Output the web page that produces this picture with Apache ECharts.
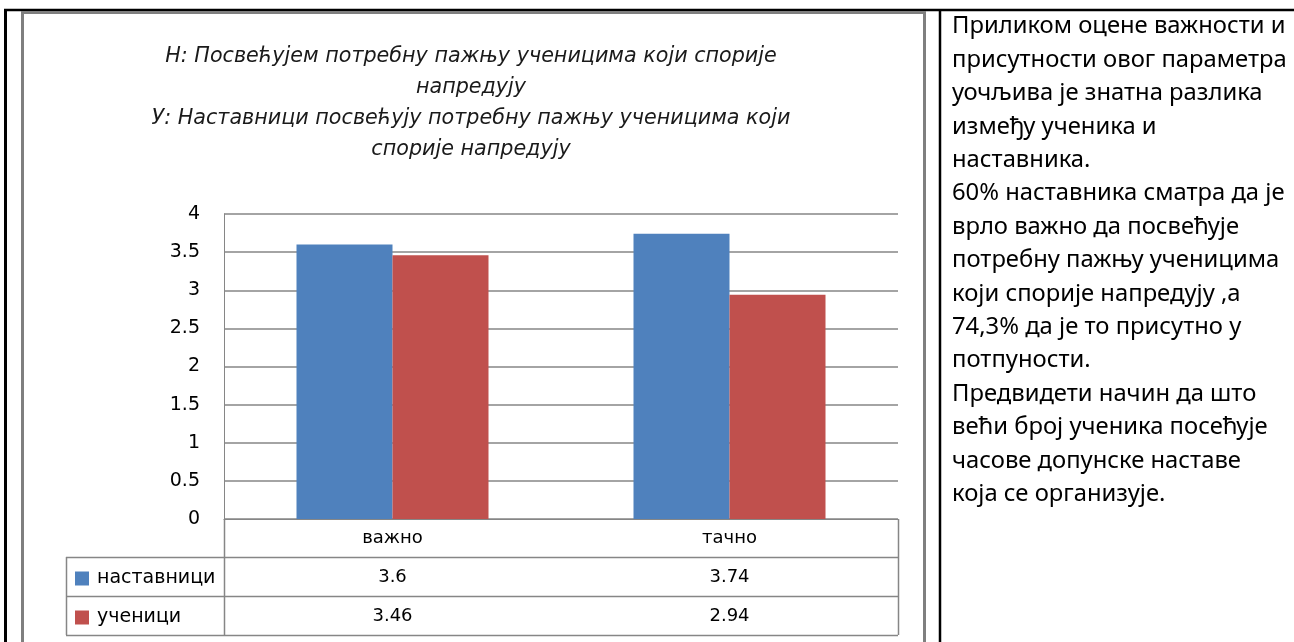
<!DOCTYPE html>
<html>
<head>
<meta charset="utf-8">
<script src="https://cdn.jsdelivr.net/npm/echarts@6/dist/echarts.min.js"></script>
<style>
  html, body { margin: 0; padding: 0; background: #fff; }
  #chart { width: 1294px; height: 642px; }
</style>
</head>
<body>
<div id="chart"></div>
<script>
const categories = ['важно', 'тачно']
const seriesNames = ['наставници', 'ученици']
const teacherValues = [3.6, 3.74]
const studentValues = [3.46, 2.94]
const titleLines = [
  'Н: Посвећујем потребну пажњу ученицима који спорије',
  'напредују',
  'У: Наставници посвећују потребну пажњу ученицима који',
  'спорије напредују'
]
const noteLines = [
  'Приликом оцене важности и',
  'присутности овог параметра',
  'уочљива је знатна разлика',
  'између ученика и',
  'наставника.',
  '60% наставника сматра да је',
  'врло важно да посвећује',
  'потребну пажњу ученицима',
  'који спорије напредују ,а',
  '74,3% да је то присутно у',
  'потпуности.',
  'Предвидети начин да што',
  'већи број ученика посећује',
  'часове допунске наставе',
  'која се организује.'
]

const gridColor = '#868686'
const labelFont = 'DejaVu Sans'

const chart = echarts.init(document.getElementById('chart'))

const options = {
  animation: false,
  title: {
    text: titleLines.join('\n'),
    left: 466,
    top: 36,
    textAlign: 'center',
    textStyle: {
      fontFamily: 'DejaVu Sans',
      fontStyle: 'italic',
      fontWeight: 'normal',
      fontSize: 20.7,
      lineHeight: 31,
      color: '#1a1a1a'
    }
  },
  legend: {
    orient: 'vertical',
    left: 75,
    top: 569,
    padding: 0,
    itemWidth: 14,
    itemHeight: 14,
    itemGap: 20,
    icon: 'rect',
    data: seriesNames,
    textStyle: {
      fontFamily: labelFont,
      fontSize: 19,
      lineHeight: 14,
      color: '#000',
      padding: [0, 0, 0, 3]
    }
  },
  grid: {
    left: 224,
    top: 214,
    right: 396,
    bottom: 123
  },
  xAxis: {
    type: 'category',
    data: categories,
    axisLine: { lineStyle: { color: gridColor, width: 1 } },
    axisTick: { show: false },
    axisLabel: {
      fontFamily: labelFont,
      fontSize: 18,
      color: '#000',
      margin: 10
    }
  },
  yAxis: {
    type: 'value',
    min: 0,
    max: 4,
    interval: 0.5,
    axisLine: { show: true, lineStyle: { color: gridColor, width: 1 } },
    axisTick: { show: false },
    axisLabel: {
      fontFamily: labelFont,
      fontSize: 19,
      color: '#000',
      margin: 24
    },
    splitLine: { lineStyle: { color: gridColor, width: 1.5 } }
  },
  series: [
    {
      name: seriesNames[0],
      type: 'bar',
      data: teacherValues,
      barWidth: 96,
      barGap: '0%',
      itemStyle: { color: '#4F81BD' }
    },
    {
      name: seriesNames[1],
      type: 'bar',
      data: studentValues,
      barWidth: 96,
      itemStyle: { color: '#C0504D' }
    }
  ]
}
chart.setOption(options)

// data table under the plot + frames
const tableLeft = 66
const plotLeft = 224
const plotRight = 898
const rowLines = [557, 596, 635]
const rowCenters = [577, 616]

const graphics = []
function line(x1, y1, x2, y2, color, width) {
  graphics.push({
    type: 'line',
    silent: true,
    z: 100,
    shape: { x1, y1, x2, y2 },
    style: { stroke: color, lineWidth: width }
  })
}

// outer black frame and divider
line(4, 10, 1294, 10, '#000', 2.5)
line(5.5, 9, 5.5, 642, '#000', 3)
line(940, 9, 940, 642, '#000', 2.5)
// gray chart border
graphics.push({
  type: 'rect',
  silent: true,
  z: 100,
  shape: { x: 22.5, y: 12.5, width: 902, height: 700 },
  style: { fill: null, stroke: '#7f7f7f', lineWidth: 3 }
})

rowLines.forEach((y) => line(tableLeft, y + 0.5, plotRight, y + 0.5, gridColor, 1.5))
line(tableLeft + 0.5, rowLines[0], tableLeft + 0.5, rowLines[2], gridColor, 1.5)
line(plotLeft + 0.5, 519, plotLeft + 0.5, rowLines[2], gridColor, 1.5)
line(plotRight + 0.5, 519, plotRight + 0.5, rowLines[2], gridColor, 1.5)

const tableRows = [teacherValues, studentValues]
tableRows.forEach((vals, r) => {
  vals.forEach((v, i) => {
    const x = chart.convertToPixel({ xAxisIndex: 0 }, categories[i])
    graphics.push({
      type: 'text',
      silent: true,
      z: 100,
      x: x,
      y: rowCenters[r],
      style: {
        text: String(v),
        fontFamily: labelFont,
        fontSize: 18,
        fill: '#000',
        align: 'center',
        verticalAlign: 'middle'
      }
    })
  })
})

// commentary on the right
graphics.push({
  type: 'text',
  silent: true,
  z: 100,
  x: 952,
  y: 10,
  style: {
    text: noteLines.join('\n'),
    fontFamily: 'Noto Sans',
    fontSize: 23.8,
    lineHeight: 33.4,
    fill: '#000',
    align: 'left',
    verticalAlign: 'top'
  }
})

chart.setOption({ graphic: graphics })
</script>
</body>
</html>
